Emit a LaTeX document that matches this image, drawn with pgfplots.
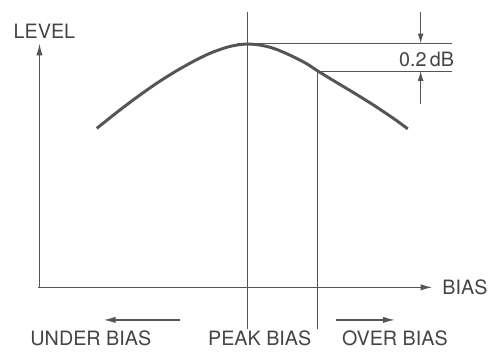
\documentclass[border=0pt]{standalone}
\usepackage{pgfplots}
\pgfplotsset{compat=1.18}
\usepackage{fontspec}
\setmainfont{TeX Gyre Heros}
\usetikzlibrary{arrows.meta}
\definecolor{ink}{HTML}{555555}
\definecolor{txt}{HTML}{444444}
\begin{document}
\begin{tikzpicture}
\begin{axis}[
  scale only axis, width=247pt, height=175.5pt,
  xmin=0, xmax=494, ymin=0, ymax=351, y dir=reverse,
  hide axis, clip=false,
]
\path (axis cs:0,0) rectangle (axis cs:494,351);
% axes
\draw[ink, line width=0.7pt, -{Latex[length=6pt,width=3.2pt]}] (axis cs:40,292) -- (axis cs:40,44);
\draw[ink, line width=0.7pt, -{Latex[length=6pt,width=3.2pt]}] (axis cs:38,291) -- (axis cs:438,291);
% verticals
\draw[ink, line width=0.55pt] (axis cs:251,12) -- (axis cs:251,333);
\draw[ink, line width=0.55pt] (axis cs:322,72) -- (axis cs:322,333);
% horizontal reference lines
\draw[ink, line width=0.55pt] (axis cs:240,44) -- (axis cs:458,44);
\draw[ink, line width=0.55pt] (axis cs:322,72) -- (axis cs:458,72);
% 0.2 dB arrows
\draw[ink, line width=0.55pt, -{Latex[length=5pt,width=3pt]}] (axis cs:426,12) -- (axis cs:426,44);
\draw[ink, line width=0.55pt, -{Latex[length=5pt,width=3pt]}] (axis cs:426,105) -- (axis cs:426,72);
% curve
\addplot[ink, line width=1.5pt, smooth] coordinates {
 (98,130) (120,112.5) (140,97.5) (160,83.5) (180,71) (200,60) (215,53) (230,47.8)
 (240,45.6) (250,44.6) (260,45.2) (270,47) (280,50) (295,56.5) (310,64.2) (322,72)
 (340,83) (360,95) (380,107.5) (400,121) (413,130.5)
};
% bottom arrows
\draw[ink, line width=0.7pt, -{Latex[length=6pt,width=3.2pt]}] (axis cs:182,324) -- (axis cs:105,324);
\draw[ink, line width=0.7pt, -{Latex[length=6pt,width=3.2pt]}] (axis cs:340,324) -- (axis cs:400,324);
% labels
\node[txt, font=\fontsize{10}{12}\selectfont] at (axis cs:45,32) {LEVEL};
\node[txt, font=\fontsize{10}{12}\selectfont, anchor=west] at (axis cs:441,291) {BIAS};
\node[txt, font=\fontsize{10}{12}\selectfont] at (axis cs:432,60) {0.2\,dB};
\node[txt, font=\fontsize{10}{12}\selectfont] at (axis cs:92,343) {UNDER BIAS};
\node[txt, font=\fontsize{10}{12}\selectfont] at (axis cs:263,343) {PEAK BIAS};
\node[txt, font=\fontsize{10}{12}\selectfont] at (axis cs:400,343) {OVER BIAS};
\end{axis}
\end{tikzpicture}
\end{document}
